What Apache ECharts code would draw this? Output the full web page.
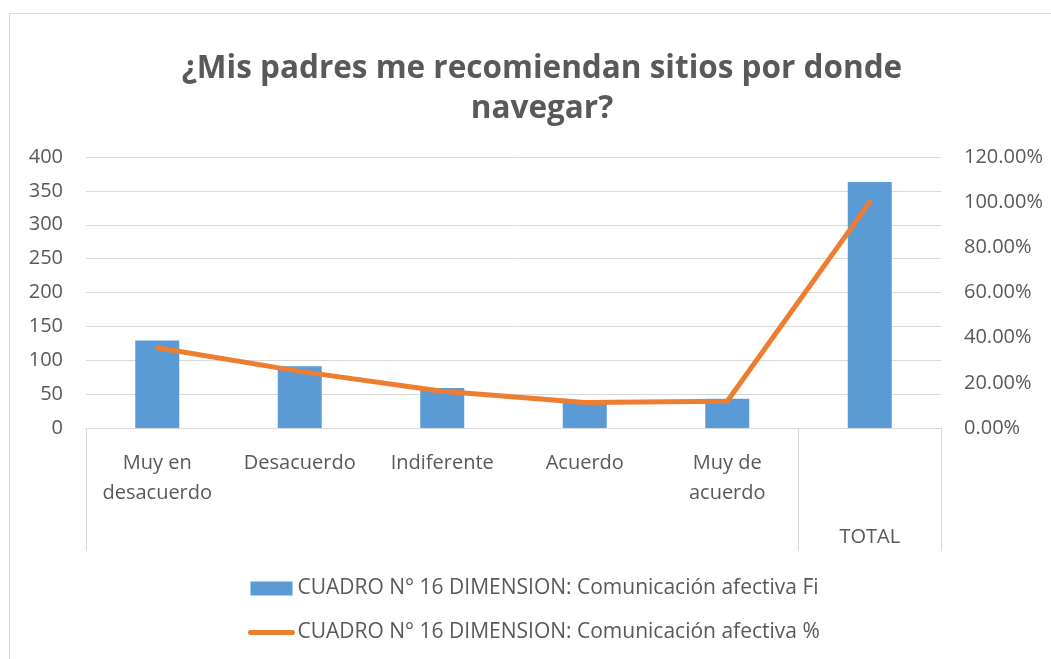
<!DOCTYPE html>
<html>
<head>
<meta charset="utf-8">
<script src="https://cdn.jsdelivr.net/npm/echarts@6/dist/echarts.min.js"></script>
<style>
  html, body { margin: 0; padding: 0; background: #fff; }
  #frame { position: absolute; left: 9px; top: 13px; width: 1060px; height: 660px;
           border-left: 1px solid #d9d9d9; border-top: 1px solid #d9d9d9; }
  #chart { position: absolute; left: 0; top: 0; width: 1051px; height: 659px; }
</style>
</head>
<body>
<div id="frame"></div>
<div id="chart"></div>
<script>
const categories = ['Muy en\ndesacuerdo', 'Desacuerdo', 'Indiferente', 'Acuerdo', 'Muy de\nacuerdo', 'TOTAL'];
const fiValues = [129, 91, 59, 41, 43, 363];
const pctValues = [0.3554, 0.2507, 0.1625, 0.1129, 0.1185, 1.0];
const leftTicks = [0, 50, 100, 150, 200, 250, 300, 350, 400];
const rightTicks = [0, 0.2, 0.4, 0.6, 0.8, 1.0, 1.2];
const seriesNames = [
  'CUADRO N° 16 DIMENSION: Comunicación afectiva Fi',
  'CUADRO N° 16 DIMENSION: Comunicación afectiva %'
];

const FONT = 'Open Sans';
const GREY = '#595959';

const chart = echarts.init(document.getElementById('chart'));

const option = {
  animation: false,
  textStyle: { fontFamily: FONT },
  title: {
    text: '¿Mis padres me recomiendan sitios por donde\nnavegar?',
    left: 537,
    top: 44,
    textAlign: 'center',
    textStyle: { fontFamily: FONT, fontSize: 31.5, fontWeight: 'bold', color: GREY, lineHeight: 40 }
  },
  legend: {
    orient: 'vertical',
    left: 243,
    top: 573,
    itemWidth: 42,
    itemHeight: 14,
    itemGap: 23,
    itemTextGap: 4,
    textStyle: { fontFamily: FONT, fontSize: 21, color: GREY },
    data: [
      { name: seriesNames[0], icon: 'rect' },
      { name: seriesNames[1], itemStyle: { opacity: 0 }, lineStyle: { width: 5, cap: 'round' } }
    ]
  },
  grid: { left: 86, right: 110, top: 157, bottom: 231 },
  xAxis: {
    type: 'category',
    data: categories,
    axisLine: { lineStyle: { color: '#d9d9d9', width: 1 } },
    axisTick: {
      show: true,
      length: 123,
      lineStyle: { color: '#d9d9d9', width: 1 },
      interval: function (idx) { return idx === 0 || idx === 5; }
    },
    axisLabel: {
      interval: 0,
      margin: 20,
      fontSize: 20,
      color: GREY,
      lineHeight: 30,
      formatter: function (v) { return v === 'TOTAL' ? '{t|' + v + '}' : v; },
      rich: { t: { fontSize: 20, color: GREY, padding: [148, 0, 0, 0] } }
    }
  },
  yAxis: [
    {
      type: 'value',
      min: leftTicks[0],
      max: leftTicks[leftTicks.length - 1],
      interval: 50,
      axisLine: { show: false },
      axisTick: { show: false },
      splitLine: { lineStyle: { color: '#d9d9d9', width: 1 } },
      axisLabel: { fontSize: 20, color: GREY, margin: 23 }
    },
    {
      type: 'value',
      min: rightTicks[0],
      max: rightTicks[rightTicks.length - 1],
      interval: 0.2,
      axisLine: { show: false },
      axisTick: { show: false },
      splitLine: { show: false },
      axisLabel: {
        fontSize: 20, color: GREY, margin: 23,
        formatter: function (v) { return (v * 100).toFixed(2) + '%'; }
      }
    }
  ],
  series: [
    {
      name: seriesNames[0],
      type: 'bar',
      yAxisIndex: 0,
      data: fiValues,
      barWidth: 44,
      itemStyle: { color: '#5B9BD5' }
    },
    {
      name: seriesNames[1],
      type: 'line',
      yAxisIndex: 1,
      data: pctValues,
      symbol: 'none',
      lineStyle: { color: '#ED7D31', width: 5, cap: 'round', join: 'round' },
      itemStyle: { color: '#ED7D31' }
    }
  ]
};

chart.setOption(option);
</script>
</body>
</html>
